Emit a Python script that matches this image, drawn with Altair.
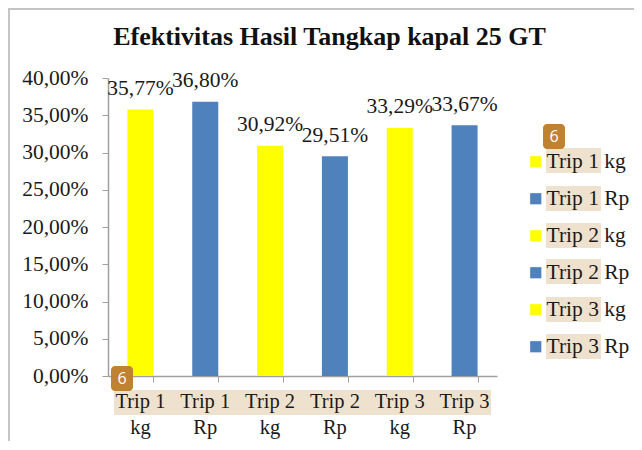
import altair as alt
import pandas as pd

categories = ["Trip 1 kg", "Trip 1 Rp", "Trip 2 kg", "Trip 2 Rp", "Trip 3 kg", "Trip 3 Rp"]
values = [35.77, 36.80, 30.92, 29.51, 33.29, 33.67]
labels = ["35,77%", "36,80%", "30,92%", "29,51%", "33,29%", "33,67%"]
tick_labels = ["Trip 1\nkg", "Trip 1\nRp", "Trip 2\nkg", "Trip 2\nRp", "Trip 3\nkg", "Trip 3\nRp"]
colors = ["#FFFF00", "#4F81BD", "#FFFF00", "#4F81BD", "#FFFF00", "#4F81BD"]
y_ticks = [0, 5, 10, 15, 20, 25, 30, 35, 40]
legend_strip_tops = [70, 108, 145, 181, 219, 256]
FONT = "Liberation Serif"
BEIGE = "#EEE2CE"
BADGE = "#BE8230"
INK = "#1A1A1A"
AXIS = "#A0A0A0"
FRAME = "#C4C4C4"

df = pd.DataFrame({"cat": categories, "val": values, "label": labels, "tick": tick_labels})
x = alt.X("cat:N", sort=categories, title=None, scale=alt.Scale(paddingInner=0.6, paddingOuter=0.3),
          axis=alt.Axis(labels=False, domainColor=AXIS, tickColor=AXIS, tickSize=6, tickBand="extent", domainWidth=1.5))
y = alt.Y("val:Q", title=None, scale=alt.Scale(domain=[0, 40], nice=False),
          axis=alt.Axis(values=y_ticks, labelExpr="replace(format(datum.value,'.2f'),'.',',')+'%'", labelFont=FONT,
                        labelFontSize=21.5, labelColor=INK, labelPadding=14, domainColor=AXIS, domainWidth=1.5,
                        tickColor=AXIS, tickSize=6, grid=False))

one = pd.DataFrame({"a": [0]})
base = alt.Chart(df)


def box(x1, x2, y1, y2, color, radius=0):
    return alt.Chart(one).mark_rect(color=color, clip=False, cornerRadius=radius).encode(
        x=alt.value(x1), x2=alt.value(x2), y=alt.value(y1), y2=alt.value(y2))


def badge(x1, y1):
    t = alt.Chart(one).mark_text(text="6", font="Open Sans", fontSize=16, color="white", clip=False).encode(
        x=alt.value(x1 + 11), y=alt.value(y1 + 13))
    return box(x1, x1 + 22, y1, y1 + 25, BADGE, 4) + t


frame_left = alt.Chart(one).mark_rule(color=FRAME, strokeWidth=2, clip=False).encode(
    x=alt.value(-99), y=alt.value(-70), y2=alt.value(363))
frame_top = alt.Chart(one).mark_rule(color=FRAME, strokeWidth=2, clip=False).encode(
    x=alt.value(-100), x2=alt.value(526), y=alt.value(-69))

layers = [frame_left, frame_top, box(6, 383, 312, 337, BEIGE)]
layers += [box(438, 493, top, top + 25, BEIGE) for top in legend_strip_tops]

bars = base.mark_bar(size=26).encode(
    x=x, y=y,
    color=alt.Color("cat:N", sort=categories, scale=alt.Scale(domain=categories, range=colors),
        legend=alt.Legend(title=None, orient="none", legendX=417, legendY=73, symbolType="square", symbolSize=125,
                          labelFont=FONT, labelFontSize=21.5, labelColor=INK, rowPadding=14, labelOffset=0,
                          symbolStrokeWidth=0, zindex=1)))
values_text = base.mark_text(font=FONT, fontSize=21.5, color=INK, dy=-20.5).encode(x=x, y=y, text="label:N")
cat_text = base.mark_text(font=FONT, fontSize=20.5, color=INK, lineBreak="\n", lineHeight=26, baseline="middle",
                          clip=False).encode(x=x, y=alt.value(324), text="tick:N")

layers += [bars, values_text, cat_text, badge(3, 288), badge(435, 46)]

chart = alt.layer(*layers).properties(
    width=389, height=298,
    padding={"left": 100, "top": 70, "right": 137, "bottom": 65},
    autosize="none",
    title=alt.TitleParams("Efektivitas Hasil Tangkap kapal 25 GT", font=FONT, fontSize=26, fontWeight="bold",
                          color="#111111", anchor="middle", offset=-43, dx=27),
).configure_view(stroke=None)
chart.save("out.html", embed_options={"renderer": "svg", "actions": False})
